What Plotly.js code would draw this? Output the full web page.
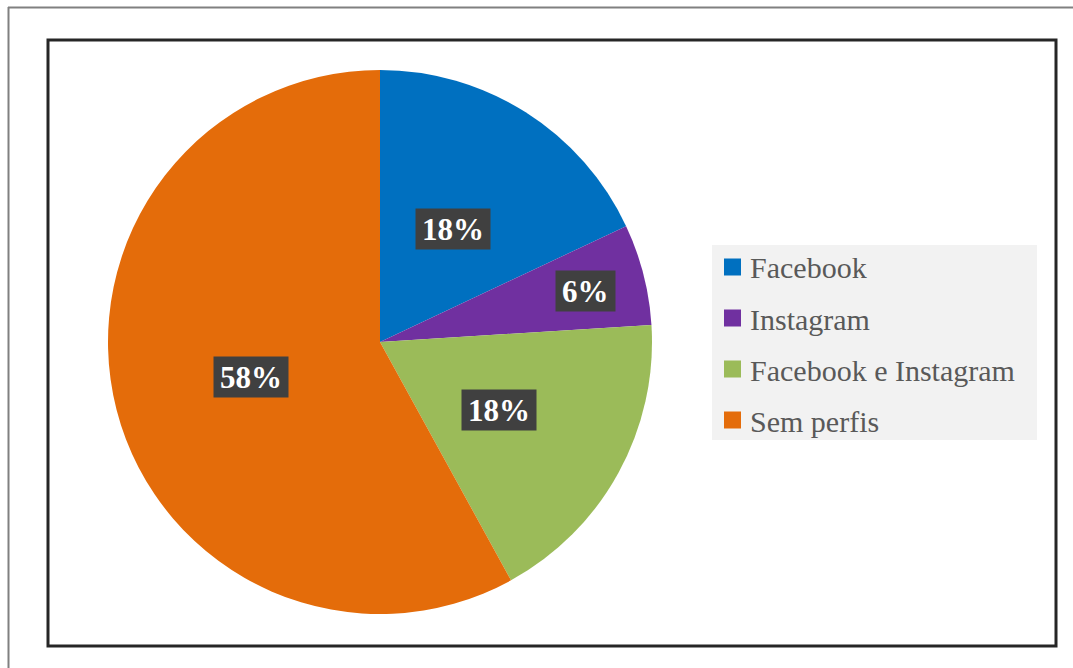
<!DOCTYPE html>
<html>
<head>
<meta charset="utf-8">
<script src="https://cdn.plot.ly/plotly-3.0.1.min.js"></script>
<style>
  html, body { margin: 0; padding: 0; background: #ffffff; }
  #chart { width: 1073px; height: 668px; }
</style>
</head>
<body>
<div id="chart"></div>
<script>
// ---- data ----
const categories = ["Facebook", "Instagram", "Facebook e Instagram", "Sem perfis"];
const values = [18, 6, 18, 58];
const labelTexts = ["18%", "6%", "18%", "58%"];
const sliceColors = ["#0070C0", "#7030A0", "#9BBB59", "#E46C0A"];

// ---- layout config ----
const W = 1073, H = 668;
const SERIF = "'Liberation Serif', 'Times New Roman', serif";
const centerPx = [380, 342];   // pie centre in pixels (from top-left)
const radiusPx = 272;
const labelRadius = [0.5, 0.78, 0.5, 0.49]; // fraction of radius where each label sits

// legend box config (pixels)
const legBox = { x0: 712, x1: 1037, y0: 245, y1: 440 };
const legFirstRow = 267, legRowGap = 51, legSq = 17, legSqX = 724, legTextX = 748;

const px = v => v / W;
const py = v => 1 - v / H;

const cx = px(centerPx[0]);
const cy = py(centerPx[1]);
const domX = [px(centerPx[0] - radiusPx), px(centerPx[0] + radiusPx)];
const domY = [py(centerPx[1] + radiusPx), py(centerPx[1] - radiusPx)];

// label annotations at the middle angle of every slice
const total = values.reduce((a, b) => a + b, 0);
let cum = 0;
const annotations = values.map((v, i) => {
  const mid = (cum + v / 2) / total * 2 * Math.PI; // clockwise from 12 o'clock
  cum += v;
  const r = labelRadius[i] * radiusPx;
  return {
    xref: "paper", yref: "paper",
    x: cx + r * Math.sin(mid) / W,
    y: cy + r * Math.cos(mid) / H,
    yshift: -2,
    text: "<b>" + labelTexts[i] + "</b>",
    showarrow: false,
    font: { family: SERIF, size: 31, color: "#ffffff" },
    bgcolor: "#404040",
    borderpad: 6,
    height: 28,
    valign: "middle",
    xanchor: "center", yanchor: "middle"
  };
});

const trace = {
  type: "pie",
  labels: categories,
  values: values,
  sort: false,
  direction: "clockwise",
  rotation: 0,
  textinfo: "none",
  hoverinfo: "label+percent",
  marker: { colors: sliceColors, line: { color: "#ffffff", width: 0 } },
  domain: { x: domX, y: domY }
};

const shapes = [
  // outer grey frame (top and left edges)
  { type: "line", xref: "paper", yref: "paper", x0: px(8), x1: 1, y0: py(7.5), y1: py(7.5),
    line: { color: "#808080", width: 2 } },
  { type: "line", xref: "paper", yref: "paper", x0: px(8.5), x1: px(8.5), y0: 0, y1: py(7),
    line: { color: "#808080", width: 2 } },
  // inner black frame
  { type: "rect", xref: "paper", yref: "paper", x0: px(48), x1: px(1056), y0: py(646), y1: py(40),
    line: { color: "#262626", width: 3 } },
  // legend background
  { type: "rect", xref: "paper", yref: "paper", x0: px(legBox.x0), x1: px(legBox.x1),
    y0: py(legBox.y1), y1: py(legBox.y0), fillcolor: "#f2f2f2", line: { width: 0 }, layer: "below" }
];

// legend entries built from the category / colour arrays
categories.forEach((name, i) => {
  const yc = legFirstRow + i * legRowGap;
  shapes.push({
    type: "rect", xref: "paper", yref: "paper",
    x0: px(legSqX), x1: px(legSqX + legSq),
    y0: py(yc + legSq / 2), y1: py(yc - legSq / 2),
    fillcolor: sliceColors[i], line: { width: 0 }
  });
  annotations.push({
    xref: "paper", yref: "paper",
    x: px(legTextX), y: py(yc + 1),
    text: name, showarrow: false,
    xanchor: "left", yanchor: "middle",
    font: { family: SERIF, size: 30, color: "#595959" }
  });
});

const layout = {
  width: W, height: H,
  margin: { l: 0, r: 0, t: 0, b: 0 },
  paper_bgcolor: "#ffffff",
  showlegend: false,
  annotations: annotations,
  shapes: shapes
};

Plotly.newPlot("chart", [trace], layout, { displayModeBar: false, staticPlot: true });
</script>
</body>
</html>
